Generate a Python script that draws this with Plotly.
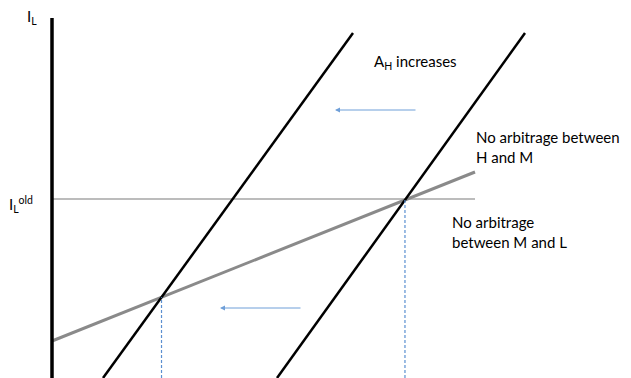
import plotly.graph_objects as go

# line endpoints in chart units (origin at the I_L axis, bottom of figure)
axis_x = [0, 0]
axis_y = [0, 360]

new_line_x = [51, 301]      # no arbitrage H/M after A_H increases
new_line_y = [0, 345]
old_line_x = [225, 473]     # no arbitrage H/M, original
old_line_y = [0, 345]

ml_x = [0, 423]             # no arbitrage M/L
ml_y = [37, 206]

il_old = 179
il_old_x = [0, 423]

arrow_tails = [(365, 268), (250, 70)]
arrow_heads = [(283, 268), (168, 70)]


def crossing(lx, ly, gx, gy):
    # intersection of a steep black line with the grey M/L line
    a = (lx[1] - lx[0]) / (ly[1] - ly[0])
    s = (gy[1] - gy[0]) / (gx[1] - gx[0])
    y = (gy[0] + s * (lx[0] - a * ly[0] - gx[0])) / (1 - s * a)
    return lx[0] + a * (y - ly[0]), y


fig = go.Figure()
fig.add_trace(go.Scatter(x=il_old_x, y=[il_old, il_old], mode='lines',
                         line=dict(color='#a6a6a6', width=1.5)))
fig.add_trace(go.Scatter(x=ml_x, y=ml_y, mode='lines',
                         line=dict(color='#8a8a8a', width=3)))
for lx, ly in [(new_line_x, new_line_y), (old_line_x, old_line_y)]:
    fig.add_trace(go.Scatter(x=lx, y=ly, mode='lines',
                             line=dict(color='black', width=2.5)))
    cx, cy = crossing(lx, ly, ml_x, ml_y)
    fig.add_trace(go.Scatter(x=[cx, cx], y=[0, cy], mode='lines',
                             line=dict(color='#5b8fd0', width=1.2,
                                       dash='3px,2px')))
fig.add_trace(go.Scatter(x=axis_x, y=axis_y, mode='lines',
                         line=dict(color='black', width=3.5)))

for (tx, ty), (hx, hy) in zip(arrow_tails, arrow_heads):
    fig.add_annotation(x=hx, y=hy, ax=tx, ay=ty, axref='x', ayref='y',
                       xref='x', yref='y', text='', showarrow=True,
                       arrowhead=2, arrowsize=1, arrowwidth=1,
                       arrowcolor='#6f9fd8')

font = dict(family='Lato', size=15, color='black')
labels = [
    (-20, 361, 'I<sub>L</sub>', 'center'),
    (-31, 174, 'I<sub>L</sub><sup>old</sup>', 'center'),
    (320, 316, 'A<sub>H</sub> increases', 'left'),
    (422, 231, 'No arbitrage between<br>H and M', 'left'),
    (398, 146, 'No arbitrage<br>between M and L', 'left'),
]
for x, y, t, anchor in labels:
    fig.add_annotation(x=x, y=y, text=t, showarrow=False, xanchor=anchor,
                       align='left', font=font)

# page body adds an 8px margin, so the figure is 8px smaller on each axis
fig.update_xaxes(range=[-44, 579], visible=False)
fig.update_yaxes(range=[0, 370], visible=False)
fig.update_layout(width=623, height=370, margin=dict(l=0, r=0, t=0, b=0),
                  plot_bgcolor='white', paper_bgcolor='white',
                  showlegend=False)
fig.write_html("out.html")
